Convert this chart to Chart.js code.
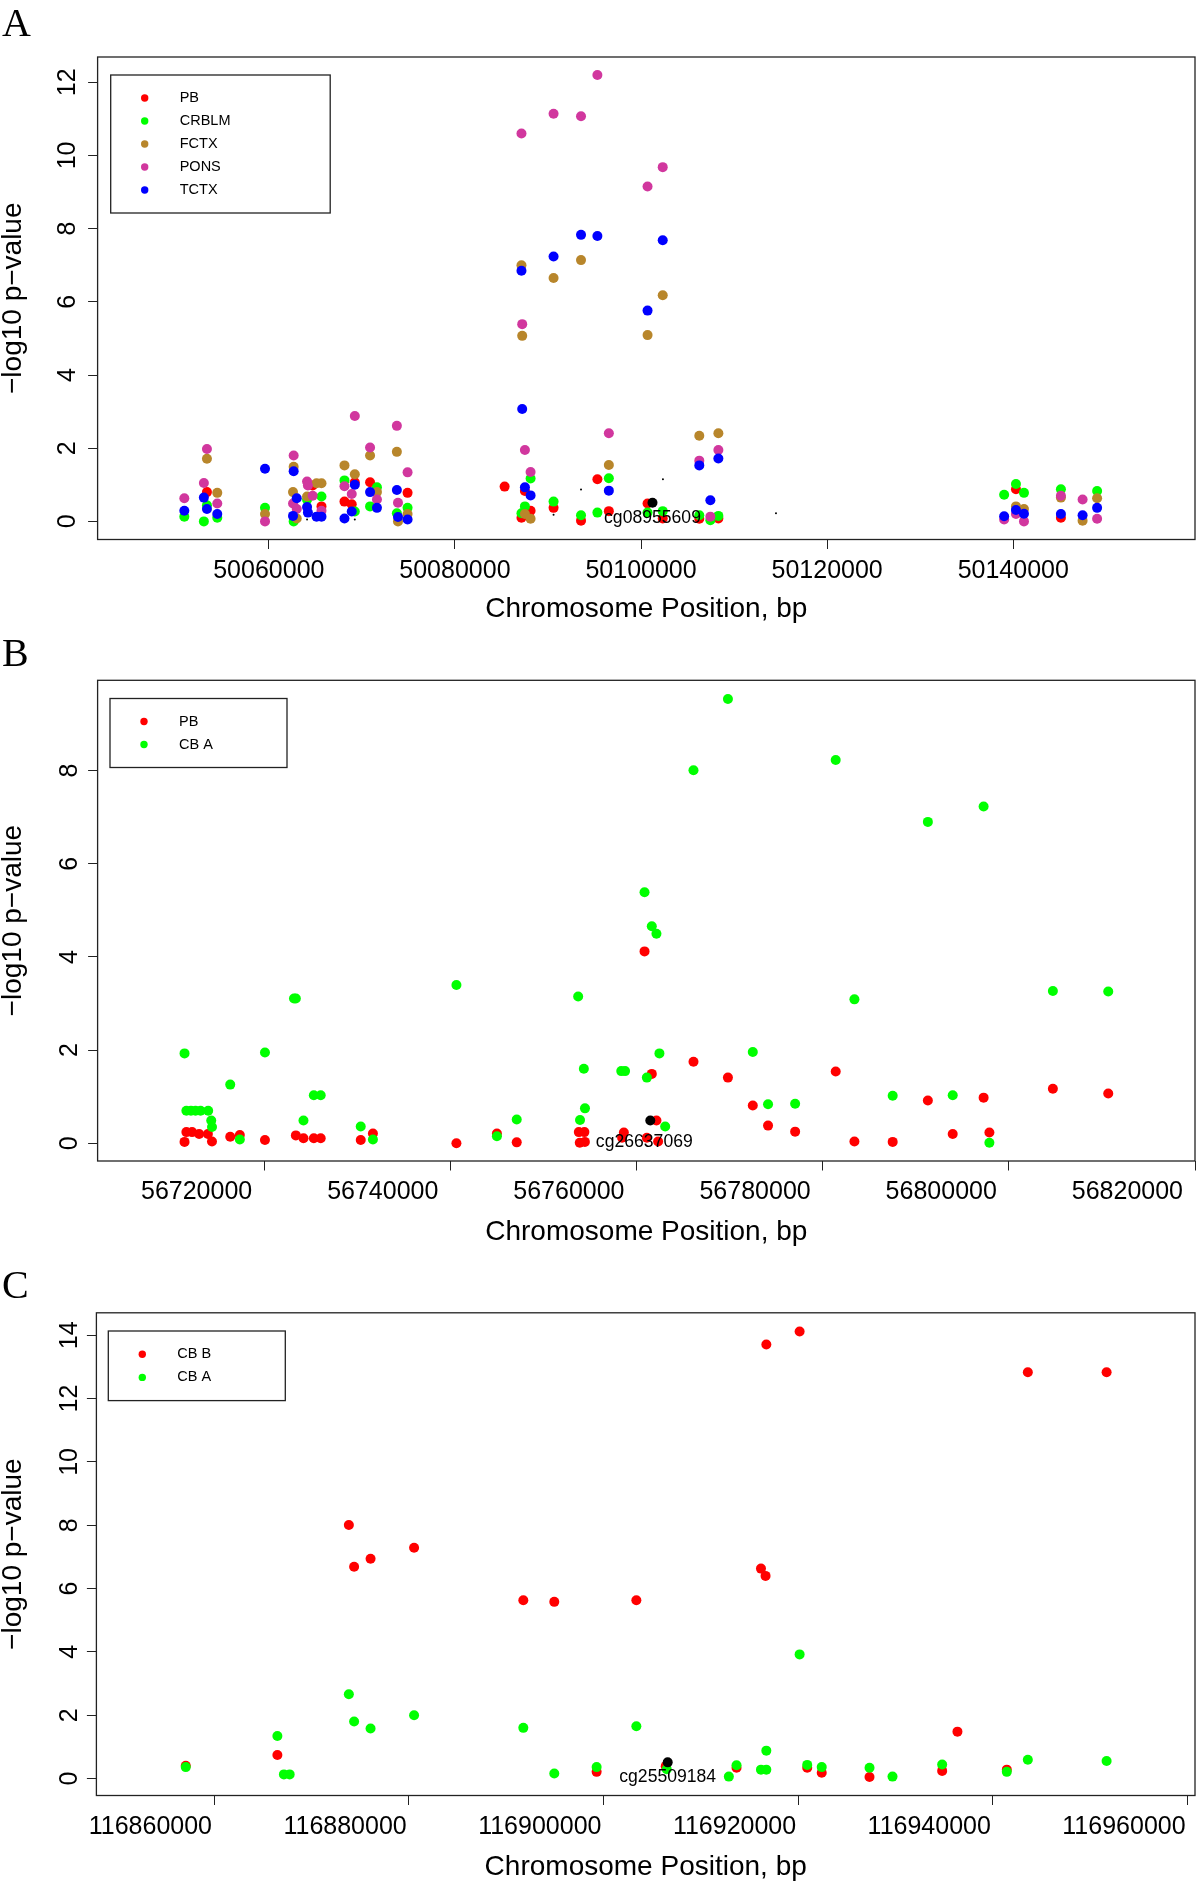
<!DOCTYPE html>
<html>
<head>
<meta charset="utf-8">
<title>-log10 p-value by chromosome position</title>
<script src="https://cdn.jsdelivr.net/npm/chart.js@4.4.1/dist/chart.umd.min.js"></script>
<style>
  html, body { margin: 0; padding: 0; background: #fff; }
  #wrap { position: relative; width: 1200px; height: 1882px; }
  canvas { position: absolute; left: 0; }
</style>
</head>
<body>
<div id="wrap">
  <canvas id="panelA" width="1200" height="628" style="top:0px"></canvas>
  <canvas id="panelB" width="1200" height="627" style="top:628px"></canvas>
  <canvas id="panelC" width="1200" height="627" style="top:1255px"></canvas>
</div>
<script>
// ---- panel A : [position bp, -log10 p] ----
const xTicksA = [50060000, 50080000, 50100000, 50120000, 50140000];
const yTicksA = [0, 2, 4, 6, 8, 10, 12];

const pbA = [[50053350,0.80],[50064710,0.98],[50065660,0.41],[50068130,0.54],[50068910,0.47],[50069240,1.07],
  [50070880,1.07],[50074910,0.78],[50085340,0.95],[50087150,0.10],[50087520,0.83],[50088130,0.29],[50090600,0.37],
  [50093550,0.02],[50095310,1.15],[50096540,0.28],[50100700,0.49],[50102330,0.08],[50106260,0.07],[50108310,0.08],
  [50140290,0.88],[50145120,0.10]];
const crblmA = [[50050920,0.13],[50053020,0.00],[50053350,0.44],[50054460,0.10],[50059590,0.37],[50062670,0.00],
  [50064110,0.59],[50065660,0.68],[50068130,1.12],[50069240,0.27],[50070880,0.41],[50071620,0.93],[50073760,0.22],
  [50074910,0.37],[50087150,0.22],[50087520,0.41],[50088130,1.17],[50090600,0.54],[50093550,0.17],[50095310,0.24],
  [50096540,1.18],[50100700,0.24],[50102330,0.28],[50106260,0.17],[50107450,0.03],[50108310,0.15],[50139020,0.73],
  [50140290,1.02],[50141150,0.78],[50145120,0.88],[50149010,0.83]];
const fctxA = [[50053350,1.71],[50054460,0.78],[50059590,0.20],[50062670,1.49],[50062600,0.80],[50063000,0.08],
  [50064110,0.68],[50065130,1.04],[50065660,1.04],[50068130,1.53],[50069240,1.29],[50070880,1.80],[50071620,0.80],
  [50073760,1.90],[50073880,0.00],[50074910,0.20],[50087150,7.00],[50087230,5.07],[50087520,0.20],[50088130,0.07],
  [50090600,6.65],[50093550,7.14],[50096540,1.54],[50100700,5.09],[50102330,6.18],[50106260,2.34],[50108310,2.41],
  [50140290,0.41],[50141150,0.34],[50145120,0.65],[50147450,0.02],[50149010,0.63]];
const ponsA = [[50050920,0.63],[50053020,1.05],[50053350,1.98],[50054460,0.49],[50059590,0.00],[50062670,1.80],
  [50062600,0.49],[50063000,0.34],[50064110,1.09],[50064200,0.98],[50064710,0.70],[50065660,0.29],[50068130,0.96],
  [50068910,0.75],[50069240,2.88],[50070880,2.02],[50071620,0.60],[50073760,2.61],[50073880,0.51],[50074910,1.34],
  [50087150,10.60],[50087230,5.39],[50087520,1.95],[50088130,1.35],[50090600,11.14],[50093550,11.07],[50095310,12.20],
  [50096540,2.41],[50100700,9.15],[50102330,9.68],[50106260,1.66],[50107450,0.13],[50108310,1.95],[50139020,0.05],
  [50140290,0.20],[50141150,0.00],[50145120,0.70],[50147450,0.60],[50149010,0.07]];
const tctxA = [[50050920,0.29],[50053020,0.65],[50053350,0.34],[50054460,0.20],[50059590,1.44],[50062670,1.37],
  [50062600,0.15],[50063000,0.63],[50064110,0.39],[50064200,0.24],[50065130,0.13],[50065660,0.13],[50068130,0.08],
  [50068910,0.27],[50069240,1.00],[50070880,0.80],[50071620,0.37],[50073760,0.86],[50073880,0.12],[50074910,0.05],
  [50087150,6.85],[50087230,3.07],[50087520,0.93],[50088130,0.71],[50090600,7.24],[50093550,7.83],[50095310,7.80],
  [50096540,0.84],[50100700,5.76],[50102330,7.68],[50106260,1.53],[50107450,0.58],[50108310,1.72],[50139020,0.14],
  [50140290,0.31],[50141150,0.21],[50145120,0.20],[50147450,0.17],[50149010,0.37]];
const otherA = [[50093550,0.87],[50102350,1.15],[50114500,0.22],[50090600,0.18],[50064110,0.05],[50069240,0.05]];
const probeA = [[50101230,0.51]];

// ---- panel B ----
const xTicksB = [56720000, 56740000, 56760000, 56780000, 56800000, 56820000];
const yTicksB = [0, 2, 4, 6, 8];

const pbB = [[56711440,0.03],[56711640,0.24],[56712250,0.24],[56713010,0.20],[56713950,0.20],[56714390,0.04],
  [56716350,0.14],[56717380,0.18],[56720080,0.07],[56723400,0.17],[56724220,0.11],[56725330,0.11],[56726070,0.11],
  [56730370,0.07],[56731680,0.21],[56740650,0.00],[56745000,0.21],[56747130,0.02],[56753800,0.24],[56754400,0.24],
  [56753900,0.01],[56754450,0.03],[56758640,0.23],[56758450,0.12],[56760860,4.12],[56761110,0.12],[56761640,1.49],
  [56762140,0.49],[56762320,0.04],[56766120,1.75],[56769820,1.41],[56772490,0.81],[56774130,0.38],[56777040,0.25],
  [56781400,1.54],[56783410,0.04],[56787520,0.03],[56791300,0.92],[56793970,0.20],[56797290,0.98],[56797910,0.23],
  [56804730,1.17],[56810680,1.07]];
const cbaB = [[56711440,1.93],[56711640,0.70],[56712130,0.70],[56712620,0.70],[56713160,0.70],[56713980,0.70],
  [56714310,0.49],[56714390,0.35],[56716350,1.26],[56717380,0.08],[56720080,1.95],[56723200,3.11],[56723400,3.11],
  [56724220,0.49],[56725330,1.03],[56726070,1.03],[56730370,0.36],[56731680,0.08],[56740650,3.40],[56745000,0.15],
  [56747130,0.51],[56753730,3.15],[56754340,1.60],[56754460,0.75],[56753930,0.50],[56758360,1.55],[56758770,1.55],
  [56760860,5.39],[56761110,1.41],[56761640,4.66],[56762140,4.50],[56762460,1.93],[56763080,0.36],[56766120,8.01],
  [56769820,9.54],[56772490,1.96],[56774130,0.84],[56777040,0.85],[56781400,8.23],[56783410,3.09],[56787520,1.02],
  [56791300,6.90],[56793970,1.03],[56797290,7.23],[56797910,0.01],[56804730,3.27],[56810680,3.26]];
const probeB = [[56761480,0.49]];

// ---- panel C ----
const xTicksC = [116860000, 116880000, 116900000, 116920000, 116940000, 116960000];
const yTicksC = [0, 2, 4, 6, 8, 10, 12, 14];

const cbbC = [[116857100,0.40],[116866510,0.74],[116873850,8.01],[116874390,6.69],[116876080,6.94],[116880550,7.29],
  [116891770,5.63],[116894950,5.58],[116899300,0.21],[116903380,5.63],[116906400,0.39],[116913670,0.34],
  [116916180,6.63],[116916650,6.40],[116916730,13.71],[116920150,14.12],[116920930,0.34],[116922420,0.18],
  [116927330,0.05],[116934790,0.24],[116936360,1.48],[116941430,0.28],[116943590,12.83],[116951680,12.83]];
const cbaC = [[116857100,0.36],[116866510,1.34],[116867180,0.13],[116867770,0.13],[116873850,2.66],[116874390,1.80],
  [116876080,1.58],[116880550,2.00],[116891770,1.60],[116894950,0.16],[116899300,0.36],[116903380,1.65],
  [116906500,0.29],[116912880,0.06],[116913670,0.42],[116916180,0.28],[116916730,0.28],[116916730,0.88],
  [116920150,3.92],[116920930,0.43],[116922420,0.36],[116927330,0.34],[116929690,0.06],[116934790,0.44],
  [116941430,0.21],[116943590,0.59],[116951680,0.55]];
const probeC = [[116906600,0.51]];

const SANS = '"Liberation Sans", Arial, Helvetica, sans-serif';
const SERIF = '"Liberation Serif", "Times New Roman", serif';
const INK = '#222';

function points(pairs) {
  return pairs.map(([x, y]) => ({ x, y }));
}

// box, panel letter, legend and probe label, like the R base plot
const rDecor = {
  id: 'rDecor',
  afterDraw(chart, args, o) {
    const ctx = chart.ctx;
    const a = chart.chartArea;
    ctx.save();
    ctx.strokeStyle = INK;
    ctx.lineWidth = 1.3;
    ctx.strokeRect(a.left, a.top, a.right - a.left, a.bottom - a.top);

    ctx.fillStyle = '#000';
    ctx.font = '40px ' + SERIF;
    ctx.textAlign = 'left';
    ctx.textBaseline = 'alphabetic';
    ctx.fillText(o.letter, o.letterX, o.letterY);

    const lg = o.legend;
    ctx.strokeRect(lg.x, lg.y, lg.w, (lg.labels.length + 1) * lg.row);
    ctx.font = '14.5px ' + SANS;
    ctx.textBaseline = 'middle';
    lg.labels.forEach((name, i) => {
      const ds = chart.data.datasets.find(d => d.label === name);
      const cy = lg.y + lg.row * (i + 1);
      ctx.fillStyle = ds.backgroundColor;
      ctx.beginPath();
      ctx.arc(lg.x + 34, cy, 3.7, 0, Math.PI * 2);
      ctx.fill();
      ctx.fillStyle = '#000';
      ctx.fillText(name, lg.x + 69, cy);
    });

    const pi = chart.data.datasets.findIndex(d => d.label === o.probe.text);
    const el = chart.getDatasetMeta(pi).data[0];
    ctx.font = '17.6px ' + SANS;
    ctx.textAlign = 'center';
    ctx.fillStyle = '#000';
    ctx.fillText(o.probe.text, el.x + o.probe.dx, el.y + o.probe.dy);
    ctx.restore();
  }
};

function drawPanel(id, p) {
  const canvas = document.getElementById(id);
  const W = canvas.width, H = canvas.height;
  const n = p.series.length;
  const tickGrid = { display: true, drawOnChartArea: false, drawTicks: true, tickLength: 9.5, color: INK, lineWidth: 1 };
  const noPad = s => { s.paddingLeft = 0; s.paddingRight = 0; s.paddingTop = 0; s.paddingBottom = 0; };

  return new Chart(canvas, {
    type: 'scatter',
    data: {
      datasets: p.series.map((s, i) => ({
        label: s.label,
        data: points(s.data),
        backgroundColor: s.color,
        borderWidth: 0,
        pointRadius: s.r,
        pointHoverRadius: s.r,
        order: n - i
      }))
    },
    options: {
      responsive: false,
      animation: false,
      devicePixelRatio: 1,
      events: [],
      layout: { padding: { left: 0, top: p.box.top, right: W - p.box.right, bottom: 0 } },
      plugins: {
        legend: { display: false },
        tooltip: { enabled: false },
        rDecor: p.decor
      },
      scales: {
        x: {
          type: 'linear',
          min: p.xMin, max: p.xMax,
          afterBuildTicks: s => { s.ticks = p.xTicks.map(v => ({ value: v })); },
          afterFit: s => { s.height = H - p.box.bottom; noPad(s); },
          grid: tickGrid,
          border: { display: false },
          ticks: {
            autoSkip: false, maxRotation: 0, minRotation: 0,
            align: p.xAlign, labelOffset: p.xLabelOffset, padding: 7,
            color: '#000', font: { family: SANS, size: 25 },
            callback: v => String(v)
          },
          title: {
            display: true, text: 'Chromosome Position, bp', color: '#000',
            font: { family: SANS, size: 28, lineHeight: 1 },
            padding: { top: 0, bottom: p.xTitlePad }
          }
        },
        y: {
          type: 'linear',
          min: p.yMin, max: p.yMax,
          afterBuildTicks: s => { s.ticks = p.yTicks.map(v => ({ value: v })); },
          afterFit: s => { s.width = p.box.left; noPad(s); },
          grid: tickGrid,
          border: { display: false },
          ticks: {
            autoSkip: false, minRotation: 90, maxRotation: 90, crossAlign: 'center',
            padding: p.yTickPad, color: '#000', font: { family: SANS, size: 25 },
            callback: v => String(v)
          },
          title: {
            display: true, text: '\u2212log10 p\u2212value', color: '#000',
            font: { family: SANS, size: 28, lineHeight: 0.93 },
            padding: { top: 0, bottom: 0 }
          }
        }
      }
    },
    plugins: [rDecor]
  });
}

drawPanel('panelA', {
  box: { left: 97.6, top: 57, right: 1199, bottom: 539.5 },
  xMin: 50041600, xMax: 50159530, yMin: -0.495, yMax: 12.69,
  xTicks: xTicksA, yTicks: yTicksA,
  xAlign: 'center', xLabelOffset: 0, xTitlePad: 4.4, yTickPad: 5.9,
  series: [
    { label: 'PB', data: pbA, color: '#ff0000', r: 5 },
    { label: 'CRBLM', data: crblmA, color: '#00ff00', r: 5 },
    { label: 'FCTX', data: fctxA, color: '#b8862b', r: 5 },
    { label: 'PONS', data: ponsA, color: '#d1379e', r: 5 },
    { label: 'TCTX', data: tctxA, color: '#0000ff', r: 5 },
    { label: 'other', data: otherA, color: '#000', r: 1 },
    { label: 'cg08955609', data: probeA, color: '#000', r: 5 }
  ],
  decor: {
    letter: 'A', letterX: 2, letterY: 36,
    legend: { x: 110.7, y: 75, w: 219.5, row: 23, labels: ['PB', 'CRBLM', 'FCTX', 'PONS', 'TCTX'] },
    probe: { text: 'cg08955609', dx: 0, dy: 15.2 }
  }
});

drawPanel('panelB', {
  box: { left: 97.6, top: 52.3, right: 1198.5, bottom: 533 },
  xMin: 56702100, xMax: 56820000, yMin: -0.38, yMax: 9.94,
  xTicks: xTicksB, yTicks: yTicksB,
  xAlign: 'end', xLabelOffset: -12, xTitlePad: 8.5, yTickPad: 10.9,
  series: [
    { label: 'PB', data: pbB, color: '#ff0000', r: 5 },
    { label: 'CB A', data: cbaB, color: '#00ff00', r: 5 },
    { label: 'cg26637069', data: probeB, color: '#000', r: 5 }
  ],
  decor: {
    letter: 'B', letterX: 2, letterY: 37.7,
    legend: { x: 110, y: 70.5, w: 177, row: 23, labels: ['PB', 'CB A'] },
    probe: { text: 'cg26637069', dx: -6, dy: 21.3 }
  }
});

drawPanel('panelC', {
  box: { left: 96.4, top: 57.8, right: 1197.7, bottom: 540.5 },
  xMin: 116847920, xMax: 116960760, yMin: -0.537, yMax: 14.71,
  xTicks: xTicksC, yTicks: yTicksC,
  xAlign: 'end', xLabelOffset: -2, xTitlePad: 0.8, yTickPad: 2.8,
  series: [
    { label: 'CB B', data: cbbC, color: '#ff0000', r: 5 },
    { label: 'CB A', data: cbaC, color: '#00ff00', r: 5 },
    { label: 'cg25509184', data: probeC, color: '#000', r: 5 }
  ],
  decor: {
    letter: 'C', letterX: 2, letterY: 42.7,
    legend: { x: 108.3, y: 76, w: 177, row: 23.2, labels: ['CB B', 'CB A'] },
    probe: { text: 'cg25509184', dx: 0, dy: 15 }
  }
});
</script>
</body>
</html>
